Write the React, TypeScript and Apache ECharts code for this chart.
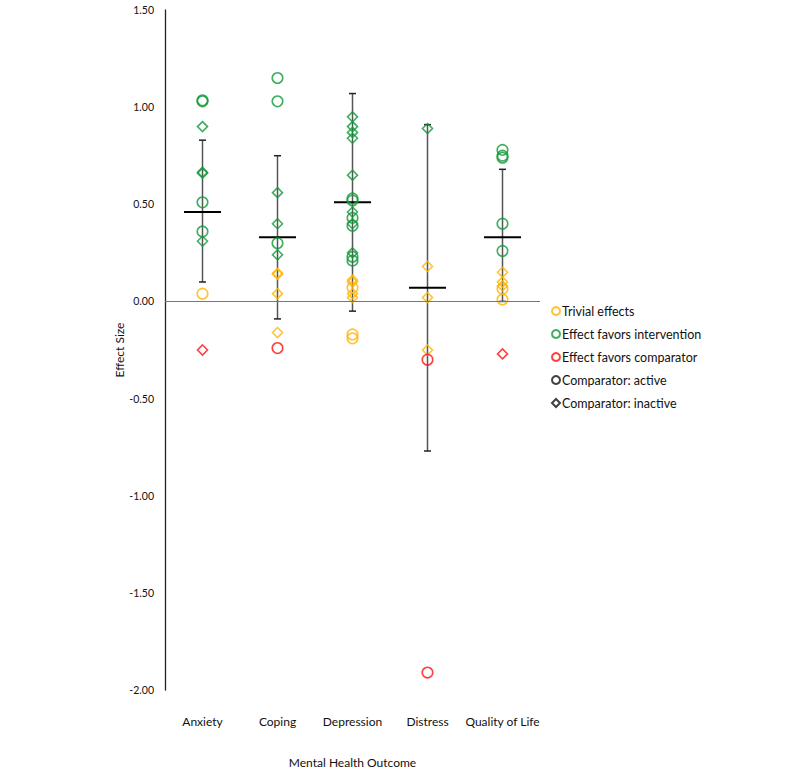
import React, { useEffect, useRef } from "react";
import * as echarts from "echarts";

const categories = ["Anxiety", "Coping", "Depression", "Distress", "Quality of Life"];

// [category, effect size]
const trivialActive: [string, number][] = [
  ["Anxiety", 0.04],
  ["Depression", 0.07],
  ["Depression", -0.17],
  ["Depression", -0.19],
  ["Quality of Life", 0.065],
  ["Quality of Life", 0.01],
];
const trivialInactive: [string, number][] = [
  ["Coping", 0.14],
  ["Coping", 0.145],
  ["Coping", 0.04],
  ["Coping", -0.16],
  ["Depression", 0.11],
  ["Depression", 0.1],
  ["Depression", 0.04],
  ["Depression", 0.02],
  ["Distress", 0.18],
  ["Distress", 0.02],
  ["Distress", -0.25],
  ["Quality of Life", 0.15],
  ["Quality of Life", 0.1],
  ["Quality of Life", 0.08],
];
const interventionActive: [string, number][] = [
  ["Anxiety", 1.03],
  ["Anxiety", 1.035],
  ["Anxiety", 0.51],
  ["Anxiety", 0.36],
  ["Coping", 1.15],
  ["Coping", 1.03],
  ["Coping", 0.3],
  ["Depression", 0.53],
  ["Depression", 0.52],
  ["Depression", 0.43],
  ["Depression", 0.39],
  ["Depression", 0.23],
  ["Depression", 0.21],
  ["Quality of Life", 0.78],
  ["Quality of Life", 0.75],
  ["Quality of Life", 0.74],
  ["Quality of Life", 0.4],
  ["Quality of Life", 0.26],
];
const interventionInactive: [string, number][] = [
  ["Anxiety", 0.9],
  ["Anxiety", 0.66],
  ["Anxiety", 0.665],
  ["Anxiety", 0.31],
  ["Coping", 0.56],
  ["Coping", 0.4],
  ["Coping", 0.24],
  ["Depression", 0.95],
  ["Depression", 0.9],
  ["Depression", 0.87],
  ["Depression", 0.84],
  ["Depression", 0.65],
  ["Depression", 0.46],
  ["Depression", 0.4],
  ["Depression", 0.25],
  ["Distress", 0.89],
];
const comparatorActive: [string, number][] = [
  ["Coping", -0.24],
  ["Distress", -0.3],
  ["Distress", -1.91],
];
const comparatorInactive: [string, number][] = [
  ["Anxiety", -0.25],
  ["Quality of Life", -0.27],
];

const meanEffect = [0.46, 0.33, 0.51, 0.07, 0.33];
const ciLower = [0.1, -0.09, -0.05, -0.77, 0.0];
const ciUpper = [0.83, 0.75, 1.07, 0.91, 0.68];

const yTicks = { min: -2, max: 1.5, interval: 0.5 };

const legendNames = [
  "Trivial effects",
  "Effect favors intervention",
  "Effect favors comparator",
  "Comparator: active",
  "Comparator: inactive",
];

const YELLOW = "#FFB400";
const GREEN = "#109A38";
const RED = "#FF1010";
const BLACK = "#111111";
const FONT = "Lato, 'Open Sans', sans-serif";

export default function App() {
  const ref = useRef<HTMLDivElement>(null);

  useEffect(() => {
    if (!ref.current) return;
    const chart = echarts.init(ref.current, undefined, { renderer: "svg" });

    const pointSeries = (
      name: string,
      data: [string, number][],
      color: string,
      symbol: string
    ) => ({
      name,
      type: "scatter",
      data,
      symbol,
      symbolSize: symbol === "circle" ? 10.5 : 10,
      z: 3,
      itemStyle: { color: "rgba(0,0,0,0)", borderColor: color, borderWidth: 1.6 },
    });

    const legendStyles: Record<string, { color: string; symbol: string }> = {
      "Trivial effects": { color: YELLOW, symbol: "circle" },
      "Effect favors intervention": { color: GREEN, symbol: "circle" },
      "Effect favors comparator": { color: RED, symbol: "circle" },
      "Comparator: active": { color: BLACK, symbol: "circle" },
      "Comparator: inactive": { color: BLACK, symbol: "diamond" },
    };

    const summaryData = categories.map((_, i) => [i, ciLower[i], ciUpper[i], meanEffect[i]]);

    const option: any = {
      animation: false,
      textStyle: { fontFamily: FONT },
      grid: { left: 165, top: 10, width: 375, height: 680, containLabel: false },
      legend: {
        orient: "vertical",
        left: 546,
        top: 299,
        itemGap: 9,
        itemWidth: 8,
        itemHeight: 8,
        selectedMode: false,
        textStyle: {
          fontSize: 12.5,
          lineHeight: 14,
          color: "#111",
          fontFamily: FONT,
          padding: [0, 0, 0, -3],
        },
        data: legendNames.map((n) => ({
          name: n,
          icon: legendStyles[n].symbol,
          itemStyle: { color: "#fff", borderColor: legendStyles[n].color, borderWidth: 2 },
        })),
      },
      xAxis: {
        type: "category",
        data: categories,
        axisLine: { show: false },
        axisTick: { show: false },
        axisLabel: { interval: 0, margin: 25, fontSize: 12, color: "#111", fontFamily: FONT },
        splitLine: { show: false },
        name: "Mental Health Outcome",
        nameLocation: "middle",
        nameGap: 66,
        nameTextStyle: { fontSize: 12, color: "#111", fontFamily: FONT },
      },
      yAxis: {
        type: "value",
        min: yTicks.min,
        max: yTicks.max,
        interval: yTicks.interval,
        axisLine: { show: true, lineStyle: { color: "#222", width: 1.3 } },
        axisTick: { show: false },
        splitLine: { show: false },
        axisLabel: {
          margin: 11,
          fontSize: 10.5,
          color: "#111",
          fontFamily: FONT,
          formatter: (v: number) => v.toFixed(2),
        },
        name: "Effect Size",
        nameLocation: "middle",
        nameGap: 40,
        nameTextStyle: { fontSize: 12, color: "#111", fontFamily: FONT },
      },
      series: [
        {
          name: "summary",
          type: "custom",
          z: 2,
          data: summaryData,
          encode: { x: 0, y: [1, 2, 3] },
          renderItem: (params: any, api: any) => {
            const idx = api.value(0);
            const lo = api.coord([idx, api.value(1)]);
            const hi = api.coord([idx, api.value(2)]);
            const mid = api.coord([idx, api.value(3)]);
            const cap = 3.5;
            const half = 18.5;
            return {
              type: "group",
              children: [
                {
                  type: "line",
                  shape: { x1: lo[0], y1: lo[1], x2: hi[0], y2: hi[1] },
                  style: { stroke: "#555", lineWidth: 1.5 },
                },
                {
                  type: "line",
                  shape: { x1: hi[0] - cap, y1: hi[1], x2: hi[0] + cap, y2: hi[1] },
                  style: { stroke: "#222", lineWidth: 1.5 },
                },
                {
                  type: "line",
                  shape: { x1: lo[0] - cap, y1: lo[1], x2: lo[0] + cap, y2: lo[1] },
                  style: { stroke: "#222", lineWidth: 1.5 },
                },
                {
                  type: "line",
                  shape: { x1: mid[0] - half, y1: mid[1], x2: mid[0] + half, y2: mid[1] },
                  style: { stroke: "#000", lineWidth: 2 },
                },
              ],
            };
          },
          markLine: {
            silent: true,
            symbol: "none",
            label: { show: false },
            lineStyle: { color: "#777", type: "solid", width: 1.2 },
            data: [{ yAxis: 0 }],
          },
        },
        pointSeries("trivial-active", trivialActive, YELLOW, "circle"),
        pointSeries("trivial-inactive", trivialInactive, YELLOW, "diamond"),
        pointSeries("intervention-active", interventionActive, GREEN, "circle"),
        pointSeries("intervention-inactive", interventionInactive, GREEN, "diamond"),
        pointSeries("comparator-active", comparatorActive, RED, "circle"),
        pointSeries("comparator-inactive", comparatorInactive, RED, "diamond"),
        ...legendNames.map((n) => ({
          name: n,
          type: "scatter",
          data: [],
          symbol: legendStyles[n].symbol,
          itemStyle: { color: "#fff", borderColor: legendStyles[n].color, borderWidth: 2 },
        })),
      ],
    };

    chart.setOption(option);
    return () => chart.dispose();
  }, []);

  return (
    <div
      ref={ref}
      style={{ position: "fixed", left: 0, top: 0, width: 800, height: 773, background: "#fff" }}
    />
  );
}
